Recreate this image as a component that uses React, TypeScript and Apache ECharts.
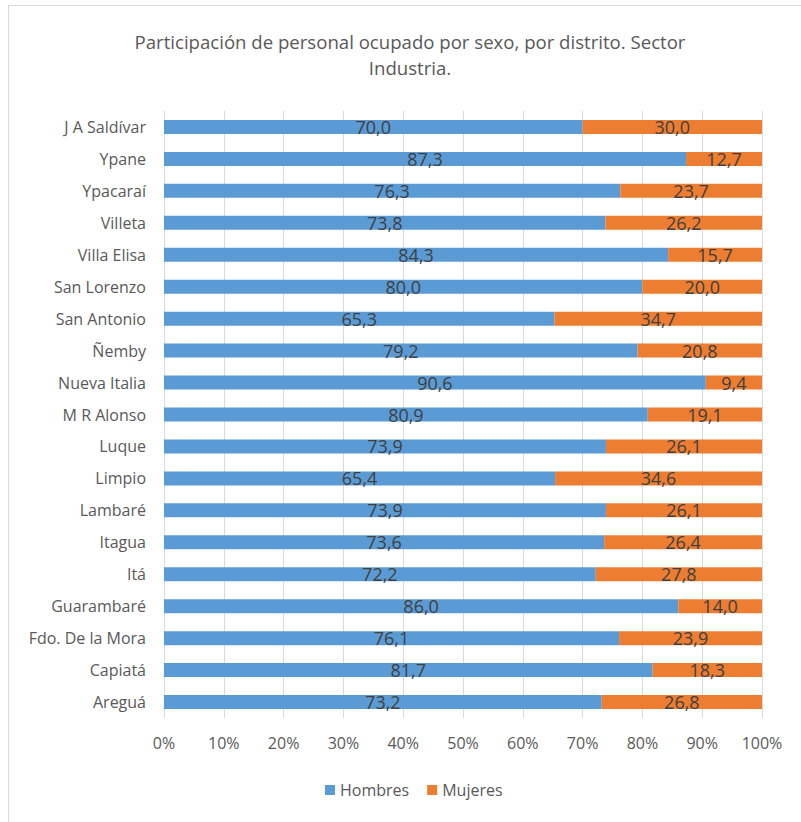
import React, { useEffect, useRef } from "react";
import * as echarts from "echarts";

const categories = [
  "Areguá", "Capiatá", "Fdo. De la Mora", "Guarambaré", "Itá", "Itagua", "Lambaré",
  "Limpio", "Luque", "M R Alonso", "Nueva Italia", "Ñemby", "San Antonio",
  "San Lorenzo", "Villa Elisa", "Villeta", "Ypacaraí", "Ypane", "J A Saldívar",
];
const hombres = [73.2, 81.7, 76.1, 86.0, 72.2, 73.6, 73.9, 65.4, 73.9, 80.9, 90.6, 79.2, 65.3, 80.0, 84.3, 73.8, 76.3, 87.3, 70.0];
const mujeres = [26.8, 18.3, 23.9, 14.0, 27.8, 26.4, 26.1, 34.6, 26.1, 19.1, 9.4, 20.8, 34.7, 20.0, 15.7, 26.2, 23.7, 12.7, 30.0];
const seriesNames = ["Hombres", "Mujeres"];
const titleLines = ["Participación de personal ocupado por sexo, por distrito. Sector", "Industria."];

const FONT = "'Open Sans', sans-serif";

export default function App() {
  const ref = useRef<HTMLDivElement>(null);
  useEffect(() => {
    const chart = echarts.init(ref.current!, null, { renderer: "svg" });
    const fmt = (p: any) => Number(p.value).toFixed(1).replace(".", ",");
    const labelCfg = {
      show: true,
      position: "inside",
      formatter: fmt,
      color: "#404040",
      fontSize: 18,
      fontFamily: FONT,
    };
    chart.setOption({
      animation: false,
      backgroundColor: "#ffffff",
      textStyle: { fontFamily: FONT },
      graphic: [
        {
          type: "rect",
          shape: { x: 8.5, y: 5.5, width: 830, height: 840 },
          style: { fill: "none", stroke: "#d9d9d9", lineWidth: 1 },
          silent: true,
        },
        {
          type: "text",
          x: 410,
          y: 41,
          style: {
            text: titleLines[0],
            textAlign: "center",
            textVerticalAlign: "middle",
            fill: "#595959",
            font: `18.6px ${FONT}`,
          },
        },
        {
          type: "text",
          x: 410,
          y: 67,
          style: {
            text: titleLines[1],
            textAlign: "center",
            textVerticalAlign: "middle",
            fill: "#595959",
            font: `18.6px ${FONT}`,
          },
        },
      ],
      legend: {
        data: seriesNames,
        left: 320,
        top: 777,
        itemWidth: 10,
        itemHeight: 10,
        itemGap: 18,
        icon: "rect",
        textStyle: { color: "#595959", fontSize: 16, fontFamily: FONT },
      },
      grid: { left: 164, right: 39, top: 111, bottom: 104, containLabel: false },
      xAxis: {
        type: "value",
        min: 0,
        max: 100,
        interval: 10,
        axisLine: { show: false },
        axisTick: { show: false },
        splitLine: { show: true, lineStyle: { color: "#d9d9d9", width: 1 } },
        axisLabel: {
          formatter: "{value}%",
          color: "#595959",
          fontSize: 16,
          fontFamily: FONT,
          margin: 17,
        },
      },
      yAxis: {
        type: "category",
        data: categories,
        axisLine: { show: false },
        axisTick: { show: false },
        axisLabel: { color: "#595959", fontSize: 16, fontFamily: FONT, margin: 18 },
      },
      series: [
        {
          name: seriesNames[0],
          type: "bar",
          stack: "total",
          data: hombres,
          barWidth: 14,
          itemStyle: { color: "#5b9bd5" },
          label: labelCfg,
        },
        {
          name: seriesNames[1],
          type: "bar",
          stack: "total",
          data: mujeres,
          barWidth: 14,
          itemStyle: { color: "#ed7d31" },
          label: labelCfg,
        },
      ],
    });
    return () => chart.dispose();
  }, []);
  return (
    <div
      ref={ref}
      style={{ position: "absolute", left: 0, top: 0, width: 801, height: 822 }}
    />
  );
}
